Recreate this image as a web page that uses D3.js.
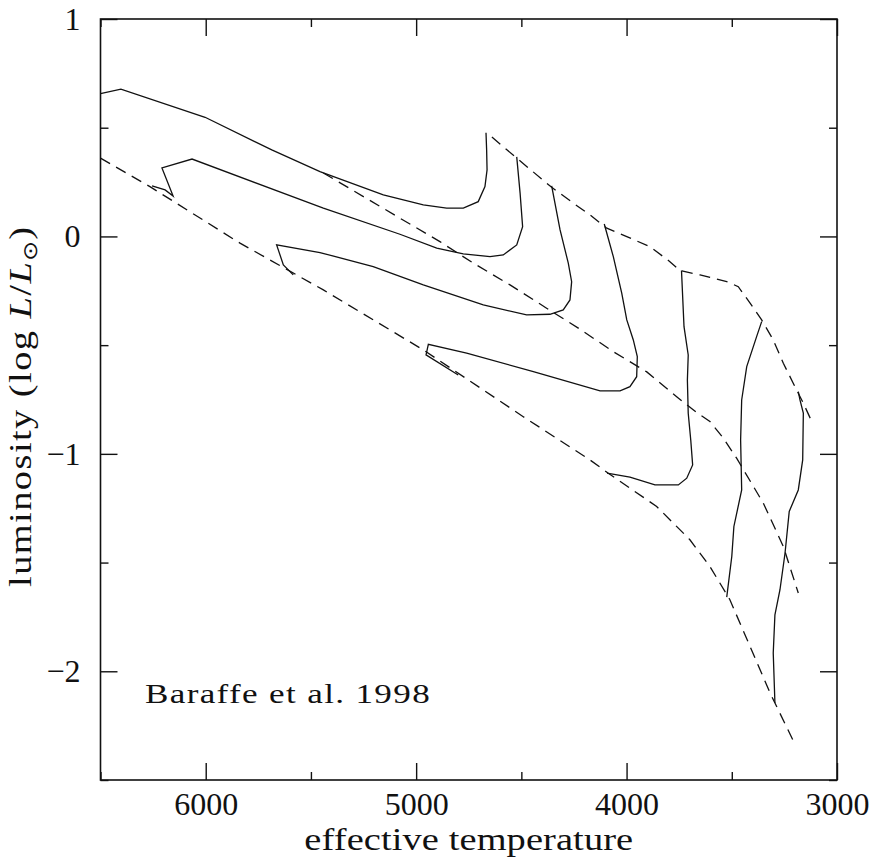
<!DOCTYPE html>
<html>
<head>
<meta charset="utf-8">
<script src="https://cdnjs.cloudflare.com/ajax/libs/d3/7.8.5/d3.min.js"></script>
<style>
  body { margin: 0; background: #fff; }
  svg { display: block; }
  .track { fill: none; stroke: #111; stroke-width: 1.3; }
  .iso { fill: none; stroke: #111; stroke-width: 1.3; stroke-dasharray: 11,7; }
</style>
</head>
<body>
<script>
// mass tracks, [Teff, log L]
var track1 = [[6500,0.657],[6403,0.677],[6003,0.548],[5686,0.398],[5457,0.298],[5156,0.191],
  [4966,0.145],[4855,0.130],[4776,0.130],[4705,0.160],[4673,0.229],[4663,0.306],[4665,0.398],[4668,0.477]]
var track2 = [[6255,0.232],[6193,0.214],[6155,0.186],[6208,0.315],[6065,0.356],[5441,0.130],[5077,0.010],
  [4902,-0.054],[4776,-0.080],[4649,-0.093],[4586,-0.085],[4522,-0.039],[4494,0.045],[4506,0.199],[4522,0.366]]
var track3 = [[5584,-0.177],[5631,-0.131],[5663,-0.039],[5457,-0.074],[5204,-0.139],[4966,-0.223],[4681,-0.315],
  [4475,-0.361],[4364,-0.358],[4301,-0.338],[4269,-0.292],[4261,-0.208],[4277,-0.123],[4316,0.030],[4356,0.232]]
var track4 = [[4800,-0.637],[4953,-0.545],[4942,-0.496],[4760,-0.537],[4443,-0.622],[4126,-0.710],[4031,-0.710],
  [3984,-0.691],[3952,-0.645],[3949,-0.553],[3968,-0.476],[3999,-0.384],[4023,-0.261],[4063,-0.093],[4106,0.057]]
var track5 = [[4093,-1.089],[3984,-1.107],[3865,-1.143],[3754,-1.143],[3714,-1.112],[3686,-1.051],[3695,-0.936],
  [3707,-0.813],[3711,-0.660],[3707,-0.545],[3727,-0.415],[3739,-0.157]]
var track6 = [[3524,-1.659],[3500,-1.472],[3490,-1.334],[3453,-1.166],[3458,-0.936],[3453,-0.752],[3429,-0.599],
  [3382,-0.461],[3358,-0.392]]
var track7 = [[3295,-2.146],[3303,-1.916],[3295,-1.740],[3271,-1.625],[3247,-1.457],[3227,-1.265],[3184,-1.166],
  [3163,-1.028],[3160,-0.813],[3176,-0.752],[3184,-0.714]]

// isochrones (dashed)
var iso1 = [[6500,0.360],[6265,0.229],[5837,-0.031],[5441,-0.246],[4966,-0.522],[4491,-0.829],[4174,-1.028],
  [4087,-1.089],[3857,-1.242],[3699,-1.395],[3604,-1.518],[3509,-1.671],[3413,-1.886],[3318,-2.100],[3200,-2.335]]
var iso2 = [[5441,0.292],[5077,0.084],[4887,-0.024],[4728,-0.123],[4554,-0.223],[4380,-0.330],[4221,-0.427],
  [4063,-0.530],[3904,-0.623],[3762,-0.737],[3667,-0.810],[3604,-0.851],[3540,-0.928],[3477,-1.020],
  [3350,-1.227],[3255,-1.426],[3184,-1.640]]
var iso3 = [[4640,0.457],[4522,0.360],[4356,0.226],[4253,0.153],[4174,0.099],[4094,0.038],[3999,-0.001],
  [3889,-0.047],[3794,-0.116],[3746,-0.157],[3651,-0.177],[3524,-0.208],[3469,-0.231],[3413,-0.307],
  [3358,-0.384],[3303,-0.476],[3255,-0.583],[3208,-0.675],[3160,-0.767],[3120,-0.851]]

var tracks = [track1, track2, track3, track4, track5, track6, track7]
var isochrones = [iso1, iso2, iso3]

var xMajor = [6000, 5000, 4000, 3000]
var xMinor = [6500, 5500, 4500, 3500]
var yMajor = [1, 0, -1, -2]
var yMinor = [0.5, -0.5, -1.5, -2.5]

var W = 879, H = 860
var pLeft = 100.5, pRight = 837, pTop = 19, pBottom = 780
var font = "'Liberation Serif', 'Times New Roman', serif"

var svg = d3.select("body").append("svg")
  .attr("width", W)
  .attr("height", H)

var x = d3.scaleLinear().domain([6500, 3000]).range([pLeft, pRight])
var y = d3.scaleLinear().domain([1, -2.5]).range([pTop, pBottom])

var line = d3.line()
  .x(function(d) { return x(d[0]) })
  .y(function(d) { return y(d[1]) })

var plot = svg.append("g")

plot.selectAll("path.iso")
  .data(isochrones)
  .enter().append("path")
  .attr("class", "iso")
  .attr("d", line)

plot.selectAll("path.track")
  .data(tracks)
  .enter().append("path")
  .attr("class", "track")
  .attr("d", line)

// frame ticks, all pointing inwards
function fix(g) {
  g.select(".domain").remove()
  g.selectAll(".tick line").attr("stroke", "#111").attr("stroke-width", 1.4)
  g.selectAll("text").attr("font-family", font).attr("font-size", 32).attr("fill", "#111")
}

svg.append("g").attr("transform", "translate(0," + pBottom + ")")
  .call(d3.axisBottom(x).tickValues(xMajor).tickSize(-17).tickPadding(12).tickFormat(d3.format("d")))
  .call(fix)
svg.append("g").attr("transform", "translate(0," + pBottom + ")")
  .call(d3.axisBottom(x).tickValues(xMinor).tickSize(-8).tickFormat(""))
  .call(fix)
svg.append("g").attr("transform", "translate(0," + pTop + ")")
  .call(d3.axisTop(x).tickValues(xMajor).tickSize(-17).tickFormat(""))
  .call(fix)
svg.append("g").attr("transform", "translate(0," + pTop + ")")
  .call(d3.axisTop(x).tickValues(xMinor).tickSize(-8).tickFormat(""))
  .call(fix)

svg.append("g").attr("transform", "translate(" + pLeft + ",0)")
  .call(d3.axisLeft(y).tickValues(yMajor).tickSize(-17).tickPadding(20)
    .tickFormat(function(d) { return d < 0 ? "\u2212" + Math.abs(d) : d }))
  .call(fix)
svg.append("g").attr("transform", "translate(" + pLeft + ",0)")
  .call(d3.axisLeft(y).tickValues(yMinor).tickSize(-8).tickFormat(""))
  .call(fix)
svg.append("g").attr("transform", "translate(" + pRight + ",0)")
  .call(d3.axisRight(y).tickValues(yMajor).tickSize(-17).tickFormat(""))
  .call(fix)
svg.append("g").attr("transform", "translate(" + pRight + ",0)")
  .call(d3.axisRight(y).tickValues(yMinor).tickSize(-8).tickFormat(""))
  .call(fix)

svg.append("rect")
  .attr("x", pLeft).attr("y", pTop)
  .attr("width", pRight - pLeft).attr("height", pBottom - pTop)
  .attr("fill", "none").attr("stroke", "#111").attr("stroke-width", 1.6)

// axis titles (stretched a bit to get the wide look of the original type)
svg.append("text")
  .attr("transform", "translate(" + (pLeft + pRight) / 2 + ",850) scale(1.2,1)")
  .attr("text-anchor", "middle")
  .attr("font-family", font).attr("font-size", 32).attr("fill", "#111")
  .attr("textLength", 274).attr("lengthAdjust", "spacing")
  .text("effective temperature")

var yt = svg.append("text")
  .attr("transform", "translate(31,407) rotate(-90) scale(1.2,1)")
  .attr("text-anchor", "middle")
  .attr("font-family", font).attr("font-size", 32).attr("fill", "#111")
  .attr("textLength", 300).attr("lengthAdjust", "spacing")
yt.append("tspan").text("luminosity (log ")
yt.append("tspan").attr("font-style", "italic").text("L")
yt.append("tspan").text("/")
yt.append("tspan").attr("font-style", "italic").text("L")
yt.append("tspan").attr("font-size", 20).attr("dy", 6).text("\u2299")
yt.append("tspan").attr("dy", -6).text(")")

svg.append("text")
  .attr("transform", "translate(145,703) scale(1.3,1)")
  .attr("font-family", font).attr("font-size", 27).attr("fill", "#111")
  .attr("textLength", 219).attr("lengthAdjust", "spacing")
  .text("Baraffe et al. 1998")
</script>
</body>
</html>
